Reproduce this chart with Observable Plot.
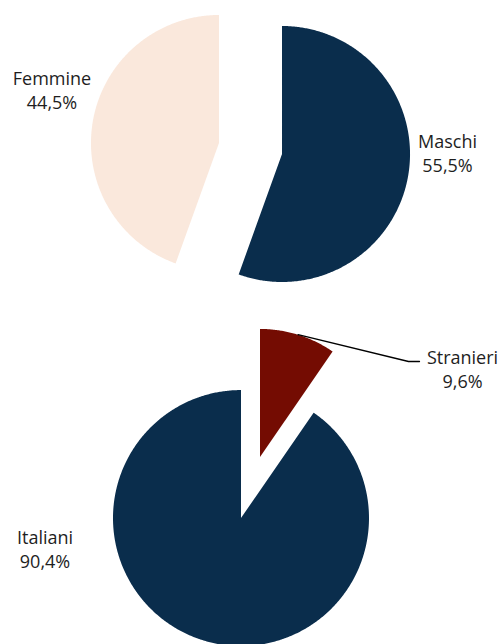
<!DOCTYPE html>
<html>
<head>
<meta charset="utf-8">
<script src="https://cdn.jsdelivr.net/npm/d3@7"></script>
<script src="https://cdn.jsdelivr.net/npm/@observablehq/plot@0.6"></script>
<style>
  html, body { margin: 0; padding: 0; background: #fff; }
  #chart svg { display: block; }
</style>
</head>
<body>
<div id="chart"></div>
<script>
// ---- Data ----
const genderCategories = ["Maschi", "Femmine"];
const genderShares = [55.5, 44.5];
const originCategories = ["Stranieri", "Italiani"];
const originShares = [9.6, 90.4];

// ---- Styles / layout ----
const sliceColors = {
  Maschi: "#0a2d4c",
  Femmine: "#fae8dc",
  Stranieri: "#740c02",
  Italiani: "#0a2d4c"
};
const pieLayout = [
  {cx: 250, cy: 148, r: 128, explode: 32},
  {cx: 250, cy: 487, r: 128, explode: 32}
];
const labelPos = {
  Maschi: [447, 152],
  Femmine: [51.5, 88.5],
  Stranieri: [462, 367.5],
  Italiani: [44.5, 548]
};
const leaderElbow = [[408, 361], [419, 361]];

// ---- Geometry from data ----
const pies = [
  {cats: genderCategories, vals: genderShares, ...pieLayout[0]},
  {cats: originCategories, vals: originShares, ...pieLayout[1]}
];
const polys = [];
const labels = [];
const arcMid = {};
pies.forEach((p, pi) => {
  const arcs = d3.pie().sort(null).value(d => d)(p.vals);
  arcs.forEach((a, i) => {
    const name = p.cats[i];
    const mid = (a.startAngle + a.endAngle) / 2;
    const vx = p.cx + p.explode * Math.sin(mid);
    const vy = p.cy - p.explode * Math.cos(mid);
    const key = name + pi;
    polys.push({slice: name, key, x: vx, y: vy});
    const n = Math.max(2, Math.ceil((a.endAngle - a.startAngle) / (Math.PI / 360)));
    for (let k = 0; k <= n; k++) {
      const t = a.startAngle + (a.endAngle - a.startAngle) * k / n;
      polys.push({slice: name, key, x: vx + p.r * Math.sin(t), y: vy - p.r * Math.cos(t)});
    }
    polys.push({slice: name, key, x: vx, y: vy});
    arcMid[name] = [vx + p.r * Math.sin(mid), vy - p.r * Math.cos(mid)];
    labels.push({
      text: name + "\n" + p.vals[i].toFixed(1).replace(".", ",") + "%",
      x: labelPos[name][0],
      y: labelPos[name][1]
    });
  });
});
const leader = [arcMid["Stranieri"], ...leaderElbow].map(([x, y]) => ({x, y}));

const allCats = [...genderCategories, ...originCategories];

const chart = Plot.plot({
  width: 500,
  height: 644,
  margin: 0,
  x: {domain: [0, 500], axis: null},
  y: {domain: [0, 644], reverse: true, axis: null},
  color: {domain: allCats, range: allCats.map(c => sliceColors[c])},
  style: {fontFamily: "'Open Sans', sans-serif", background: "#fff"},
  marks: [
    Plot.line(polys, {x: "x", y: "y", z: "key", fill: "slice", stroke: "none", curve: "linear"}),
    Plot.line(leader, {x: "x", y: "y", stroke: "#000", strokeWidth: 1.3, curve: "linear"}),
    Plot.text(labels, {
      x: "x", y: "y", text: "text",
      fontSize: 18, lineHeight: 1.35, fill: "#1e1e1e", textAnchor: "middle"
    })
  ]
});
document.getElementById("chart").appendChild(chart);
</script>
</body>
</html>
